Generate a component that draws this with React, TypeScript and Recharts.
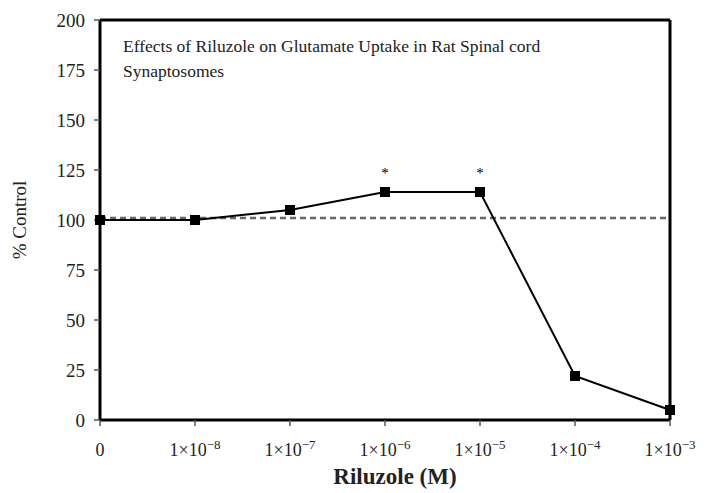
import {
  LabelList,
  Line,
  LineChart,
  ReferenceLine,
  XAxis,
  YAxis,
} from 'recharts';

const doses = ['0', '-8', '-7', '-6', '-5', '-4', '-3'];
const uptake = [100, 100, 105, 114, 114, 22, 5];
const significant = [false, false, false, true, true, false, false];
const controlLevel = 101;
const yTicks = [0, 25, 50, 75, 100, 125, 150, 175, 200];

const data = doses.map((d, i) => ({
  x: i,
  dose: d,
  value: uptake[i],
  sig: significant[i],
}));

const FONT = '"Liberation Serif", "Times New Roman", serif';
const INK = '#222';

// eslint-disable-next-line @typescript-eslint/no-explicit-any
function DoseTick({ x, y, payload }: any) {
  const exp = doses[payload.value];
  if (exp === '0') {
    return (
      <text x={x} y={y + 28} textAnchor="middle" fontFamily={FONT} fontSize={18} fill={INK}>
        0
      </text>
    );
  }
  return (
    <text x={x} y={y + 28} textAnchor="middle" fontFamily={FONT} fontSize={18} fill={INK}>
      1×10
      <tspan dy={-7} fontSize={13}>
        {exp.replace('-', '−')}
      </tspan>
    </text>
  );
}

// eslint-disable-next-line @typescript-eslint/no-explicit-any
function SquareDot({ cx, cy }: any) {
  return <rect x={cx - 5} y={cy - 5} width={10} height={10} fill="#000" />;
}

// eslint-disable-next-line @typescript-eslint/no-explicit-any
function Star({ x, y, index }: any) {
  if (!significant[index]) return null;
  return (
    <text x={x} y={y - 14} textAnchor="middle" fontFamily={FONT} fontSize={15} fill="#000">
      *
    </text>
  );
}

const frame = { stroke: '#000', strokeWidth: 3 };

export default function App() {
  return (
    <div style={{ position: 'absolute', left: 0, top: 0, background: '#fff' }}>
      <LineChart
        width={709}
        height={493}
        data={data}
        margin={{ top: 20, right: 39, left: 40, bottom: 32 }}
      >
        <XAxis
          dataKey="x"
          type="number"
          domain={[0, 6]}
          ticks={[0, 1, 2, 3, 4, 5, 6]}
          tick={<DoseTick />}
          tickSize={6}
          axisLine={frame}
          tickLine={{ stroke: '#555', strokeWidth: 1.5 }}
          height={41}
        />
        <YAxis
          type="number"
          domain={[0, 200]}
          ticks={yTicks}
          tickSize={6}
          tickMargin={9}
          axisLine={frame}
          tickLine={{ stroke: '#555', strokeWidth: 1.5 }}
          width={60}
          tick={{ fontFamily: FONT, fontSize: 19, fill: INK }}
        />
        <ReferenceLine y={200} stroke="#000" strokeWidth={3} />
        <ReferenceLine x={6} stroke="#000" strokeWidth={3} />
        <ReferenceLine
          y={controlLevel}
          stroke="#666"
          strokeWidth={2.5}
          strokeDasharray="6 4"
        />
        <Line
          dataKey="value"
          stroke="#000"
          strokeWidth={2}
          dot={<SquareDot />}
          isAnimationActive={false}
        >
          <LabelList dataKey="value" content={<Star />} />
        </Line>
        <text x={123} y={52} fontFamily={FONT} fontSize={17.5} fill={INK}>
          Effects of Riluzole on Glutamate Uptake in Rat Spinal cord
        </text>
        <text x={123} y={77} fontFamily={FONT} fontSize={17.5} fill={INK}>
          Synaptosomes
        </text>
        <text
          x={395}
          y={484}
          textAnchor="middle"
          fontFamily={FONT}
          fontSize={23}
          fontWeight="bold"
          fill={INK}
        >
          Riluzole (M)
        </text>
        <text
          x={26}
          y={220}
          textAnchor="middle"
          transform="rotate(-90 26 220)"
          fontFamily={FONT}
          fontSize={19}
          fill={INK}
        >
          % Control
        </text>
      </LineChart>
    </div>
  );
}
